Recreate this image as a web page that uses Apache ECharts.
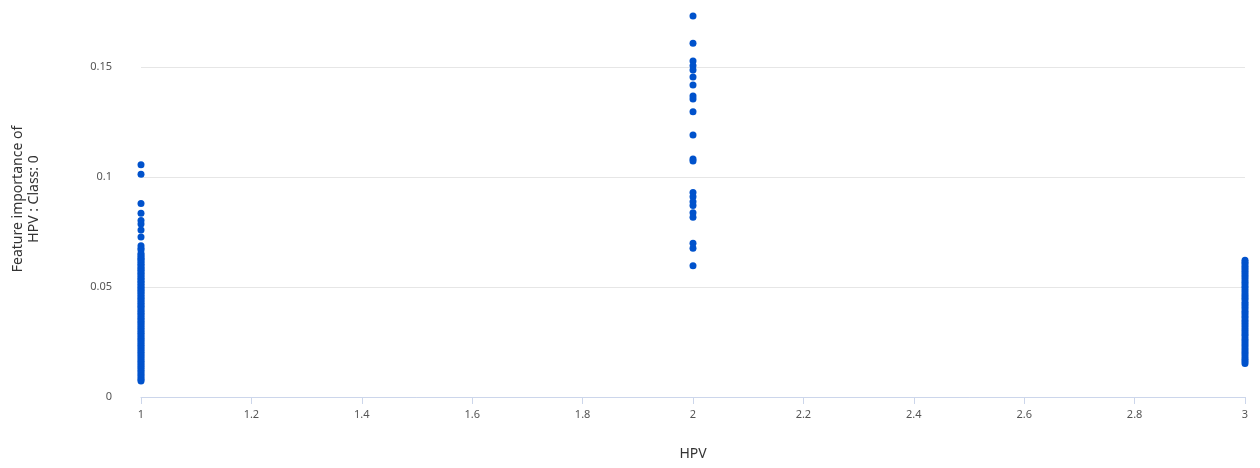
<!DOCTYPE html>
<html>
<head>
<meta charset="utf-8">
<script src="https://cdn.jsdelivr.net/npm/echarts@6/dist/echarts.min.js"></script>
<style>html,body{margin:0;padding:0;background:#fff;}#c{width:1260px;height:468px;}</style>
</head>
<body>
<div id="c"></div>
<script>
const xCategories = [1, 2, 3];
const yAtOne = [0.1056, 0.1012, 0.0880, 0.0835, 0.0802, 0.0786, 0.0759, 0.0727, 0.0688, 0.0676, 0.0668,
  0.0652, 0.0645, 0.0638, 0.0631, 0.0625, 0.0618, 0.0610, 0.0603, 0.0597, 0.0589, 0.0582, 0.0576, 0.0568,
  0.0561, 0.0555, 0.0547, 0.0540, 0.0533, 0.0526, 0.0519, 0.0512, 0.0505, 0.0498, 0.0491, 0.0484, 0.0477,
  0.0470, 0.0462, 0.0455, 0.0448, 0.0441, 0.0433, 0.0426, 0.0418, 0.0411, 0.0404, 0.0396, 0.0389, 0.0381,
  0.0374, 0.0366, 0.0358, 0.0351, 0.0343, 0.0336, 0.0328, 0.0320, 0.0313, 0.0305, 0.0297, 0.0290, 0.0282,
  0.0274, 0.0266, 0.0259, 0.0251, 0.0243, 0.0235, 0.0227, 0.0219, 0.0211, 0.0203, 0.0195, 0.0187, 0.0179,
  0.0171, 0.0163, 0.0155, 0.0147, 0.0139, 0.0131, 0.0122, 0.0114, 0.0105, 0.0097, 0.0088, 0.0079, 0.0073];
const yAtTwo = [0.1732, 0.1608, 0.1527, 0.1506, 0.1486, 0.1455, 0.1418, 0.1368, 0.1355, 0.1297, 0.1191,
  0.1082, 0.1073, 0.0929, 0.0910, 0.0888, 0.0870, 0.0838, 0.0817, 0.0699, 0.0676, 0.0597];
const yAtThree = [0.0622, 0.0613, 0.0604, 0.0594, 0.0585, 0.0575, 0.0566, 0.0556, 0.0547, 0.0536, 0.0525,
  0.0516, 0.0504, 0.0495, 0.0484, 0.0473, 0.0463, 0.0452, 0.0443, 0.0431, 0.0422, 0.0411, 0.0401, 0.0390,
  0.0381, 0.0369, 0.0360, 0.0349, 0.0339, 0.0328, 0.0318, 0.0307, 0.0297, 0.0286, 0.0277, 0.0265, 0.0256,
  0.0245, 0.0235, 0.0224, 0.0214, 0.0203, 0.0193, 0.0182, 0.0172, 0.0163, 0.0152];
const xTickLabels = ['1', '1.2', '1.4', '1.6', '1.8', '2', '2.2', '2.4', '2.6', '2.8', '3'];
const yTickLabels = ['0', '0.05', '0.1', '0.15'];

const groups = [yAtOne, yAtTwo, yAtThree];
const points = [];
groups.forEach((arr, i) => arr.forEach(v => points.push([xCategories[i], v])));

const chart = echarts.init(document.getElementById('c'), null, {renderer: 'canvas'});
const font = "'Noto Sans', 'Open Sans', sans-serif";
chart.setOption({
  animation: false,
  backgroundColor: '#ffffff',
  grid: {left: 141, right: 15, top: 1, bottom: 71},
  xAxis: {
    type: 'value', min: 1, max: 3, interval: 0.2,
    name: 'HPV', nameLocation: 'middle', nameGap: 50,
    nameTextStyle: {color: '#333', fontSize: 14, fontFamily: font},
    axisLine: {show: true, lineStyle: {color: '#ccd6eb', width: 1}},
    axisTick: {show: true, length: 7, lineStyle: {color: '#ccd6eb'}},
    axisLabel: {color: '#555', fontSize: 11, fontFamily: font, margin: 12,
      formatter: (v) => { const i = Math.round((v - 1) / 0.2); return xTickLabels[i] !== undefined ? xTickLabels[i] : ''; }},
    splitLine: {show: false}
  },
  yAxis: {
    type: 'value', min: 0, max: 0.18, interval: 0.05,
    name: 'Feature importance of\nHPV : Class: 0', nameLocation: 'middle', nameGap: 99,
    nameTextStyle: {color: '#333', fontSize: 14, fontFamily: font, lineHeight: 16},
    axisLine: {show: false},
    axisTick: {show: false},
    axisLabel: {color: '#555', fontSize: 11, fontFamily: font, margin: 29, showMaxLabel: false,
      formatter: (v) => { const i = Math.round(v / 0.05); return (Math.abs(v - i * 0.05) < 1e-9 && yTickLabels[i] !== undefined) ? yTickLabels[i] : ''; }},
    splitLine: {show: true, showMaxLine: false, lineStyle: {color: '#e6e6e6', width: 1}}
  },
  series: [{
    type: 'scatter',
    data: points,
    symbol: 'circle',
    symbolSize: 7,
    itemStyle: {color: '#0052cc', opacity: 1}
  }]
});
</script>
</body>
</html>
